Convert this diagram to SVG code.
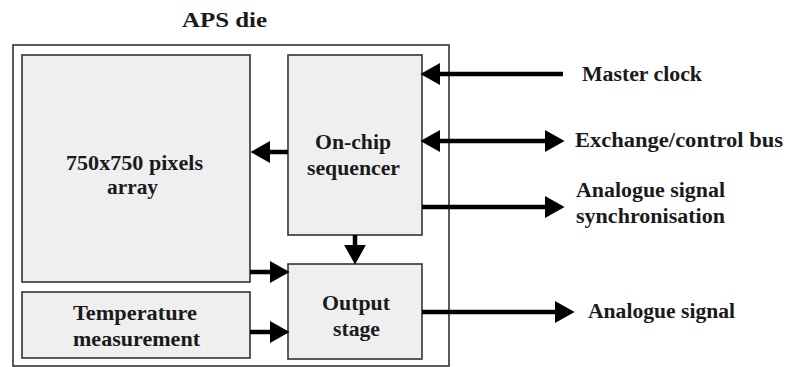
<svg xmlns="http://www.w3.org/2000/svg" width="786" height="367" viewBox="0 0 786 367">
<defs>
<style>
.box{fill:#efefef;stroke:#333;stroke-width:1.6}
.die{fill:#fff;stroke:#333;stroke-width:1.6}
.t{font-family:"Liberation Serif","Times New Roman",serif;font-weight:bold;font-size:20px;fill:#1a1a1a}
.c{text-anchor:middle}
.w{stroke:#000;stroke-width:4.5;fill:none}
</style>
<marker id="ah" markerUnits="userSpaceOnUse" markerWidth="20" markerHeight="22" refX="2" refY="10" orient="auto-start-reverse" viewBox="0 0 18 20">
<path d="M0,0 L18,10 L0,20 z" fill="#000"/>
</marker>
</defs>
<rect width="786" height="367" fill="#fff"/>
<text class="t" x="182" y="27" font-size="21" textLength="85" lengthAdjust="spacingAndGlyphs">APS die</text>
<g id="die"><rect class="die" x="13" y="45" width="436" height="321"/></g>
<g id="array">
<rect class="box" x="22" y="55" width="228" height="227"/>
<text class="t" x="66" y="170" textLength="137" lengthAdjust="spacingAndGlyphs">750x750 pixels</text>
<text class="t" x="107" y="194" textLength="51" lengthAdjust="spacingAndGlyphs">array</text>
</g>
<g id="sequencer">
<rect class="box" x="288" y="55" width="134" height="180"/>
<text class="t" x="315" y="149" textLength="76" lengthAdjust="spacingAndGlyphs">On-chip</text>
<text class="t" x="307" y="175" textLength="93" lengthAdjust="spacingAndGlyphs">sequencer</text>
</g>
<g id="output">
<rect class="box" x="288" y="264" width="134" height="95"/>
<text class="t" x="322" y="310" textLength="68" lengthAdjust="spacingAndGlyphs">Output</text>
<text class="t" x="333" y="336" textLength="47" lengthAdjust="spacingAndGlyphs">stage</text>
</g>
<g id="temperature">
<rect class="box" x="22" y="292" width="228" height="66"/>
<text class="t" x="73" y="320" textLength="124" lengthAdjust="spacingAndGlyphs">Temperature</text>
<text class="t" x="73" y="346" textLength="127" lengthAdjust="spacingAndGlyphs">measurement</text>
</g>
<g id="labels">
<text class="t" x="582" y="81" textLength="120" lengthAdjust="spacingAndGlyphs">Master clock</text>
<text class="t" x="575" y="147" textLength="208" lengthAdjust="spacingAndGlyphs">Exchange/control  bus</text>
<text class="t" x="576" y="197" textLength="149" lengthAdjust="spacingAndGlyphs">Analogue signal</text>
<text class="t" x="576" y="223" textLength="149" lengthAdjust="spacingAndGlyphs">synchronisation</text>
<text class="t" x="588" y="318" textLength="147" lengthAdjust="spacingAndGlyphs">Analogue signal</text>
</g>
<g id="connectors">
<line class="w" x1="288" y1="152" x2="268" y2="152" marker-end="url(#ah)"/>
<line class="w" x1="355" y1="235" x2="355" y2="247" marker-end="url(#ah)"/>
<line class="w" x1="250" y1="272" x2="272" y2="272" marker-end="url(#ah)"/>
<line class="w" x1="250" y1="332" x2="272" y2="332" marker-end="url(#ah)"/>
<line class="w" x1="563" y1="74" x2="438" y2="74" marker-end="url(#ah)"/>
<line class="w" x1="438" y1="141" x2="547" y2="141" marker-start="url(#ah)" marker-end="url(#ah)"/>
<line class="w" x1="422" y1="207" x2="547" y2="207" marker-end="url(#ah)"/>
<line class="w" x1="422" y1="312" x2="557" y2="312" marker-end="url(#ah)"/>
</g>
</svg>
